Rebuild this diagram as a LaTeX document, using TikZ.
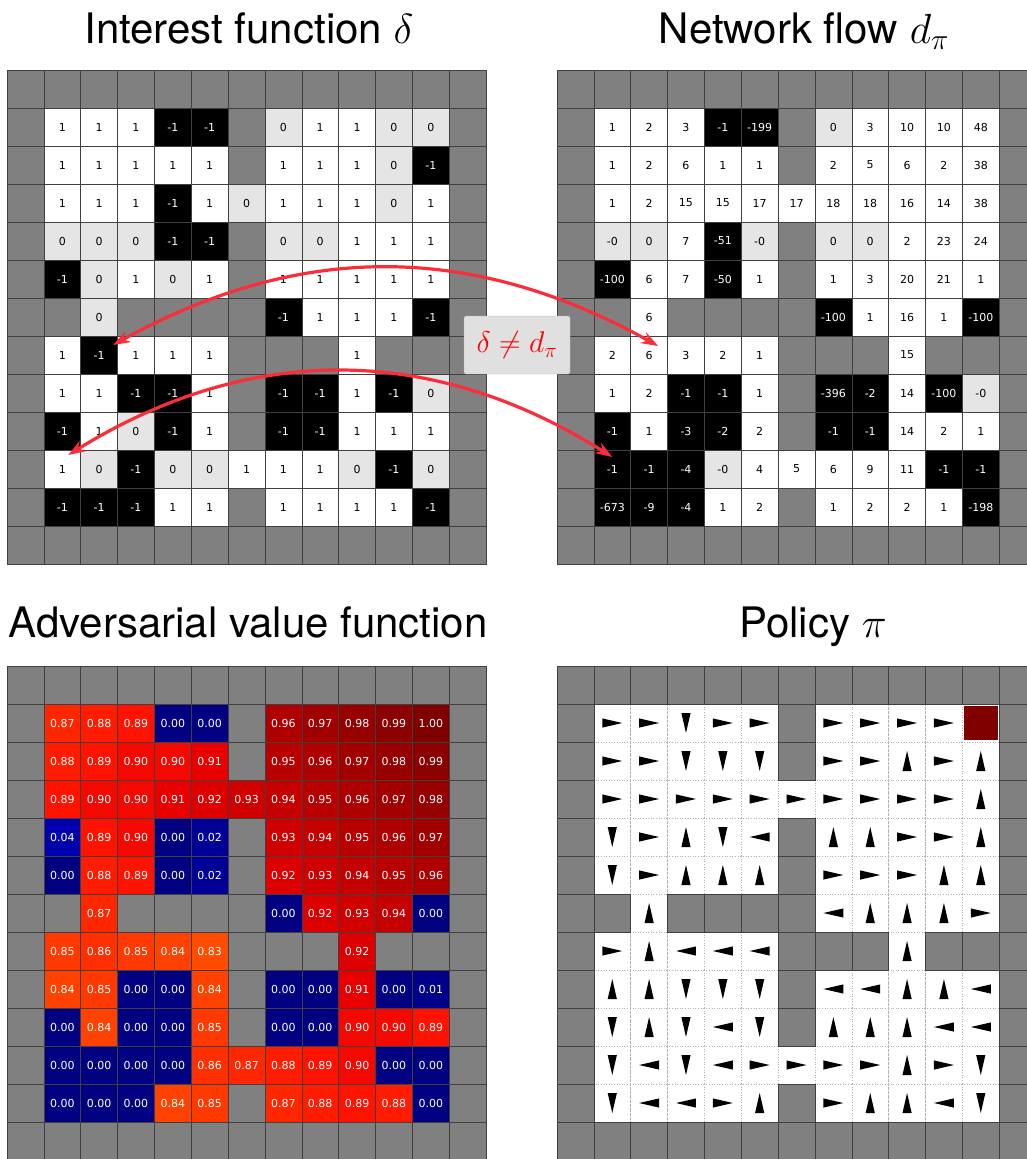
\RequirePackage{fix-cm}
\documentclass[tikz,border=0pt]{standalone}
\usepackage{amsmath}
\usepackage{fontspec}
\newfontfamily\cellfont{DejaVu Sans}
\newfontfamily\titlefont{TeX Gyre Heros}
\usetikzlibrary{arrows.meta}

\definecolor{zerogray}{gray}{0.9}
\definecolor{wallgray}{gray}{0.5}
\definecolor{linkred}{RGB}{250,45,58}
\definecolor{goalred}{RGB}{128,0,0}

% cell size (pt) and data markers
\def\cw{36.85}
\def\ch{38}
\def\wallx{x}
\def\goalG{G}
\def\dirR{0}\def\dirU{90}\def\dirL{180}\def\dirD{270}

\tikzset{
  cell/.style={rectangle, inner sep=0pt, minimum width=\cw pt, minimum height=\ch pt,
    draw=black!75, line width=0.6pt, font=\cellfont\fontsize{11}{13}\selectfont},
  wall/.style={cell, fill=wallgray},
  free/.style={cell, fill=white, draw=black!30, dotted},
  goal/.style={rectangle, inner sep=0pt, minimum width=\cw pt-2.5pt, minimum height=\ch pt-2.5pt,
    fill=goalred, draw=white, line width=0.8pt},
  gridtitle/.style={anchor=base, font=\titlefont\fontsize{42}{48}\selectfont},
  link/.style={{Stealth[length=17pt,width=12pt]}-{Stealth[length=17pt,width=12pt]},
    draw=linkred, line width=3.2pt},
}

% outer ring of walls, #1 name, (#2,#3) top left corner
\newcommand{\wallframe}[3]{%
  \foreach \r in {0,...,12}
    \foreach \c in {0,...,12} {
      \pgfmathtruncatemacro\edge{(\r==0)||(\r==12)||(\c==0)||(\c==12)}
      \ifnum\edge=1
        \node[wall] (#1-\r-\c) at ({#2+(\c+0.5)*\cw},{#3+(\r+0.5)*\ch}) {};
      \fi
    }
}

% grid of signed numbers: black < 0, light gray = 0, white > 0
\newcommand{\numgrid}[4]{%
  \wallframe{#1}{#2}{#3}
  \foreach \row [count=\r] in {#4} {
    \foreach \v [count=\c] in \row {
      \edef\tmp{\v}
      \ifx\tmp\wallx
        \node[wall] (#1-\r-\c) at ({#2+(\c+0.5)*\cw},{#3+(\r+0.5)*\ch}) {};
      \else
        \pgfmathtruncatemacro\kind{\v<0 ? 0 : (\v==0 ? 1 : 2)}
        \ifcase\kind \def\cfill{black}\def\ctext{white}%
        \or \def\cfill{zerogray}\def\ctext{black}%
        \else \def\cfill{white}\def\ctext{black}\fi
        \node[cell, fill=\cfill, text=\ctext] (#1-\r-\c)
          at ({#2+(\c+0.5)*\cw},{#3+(\r+0.5)*\ch}) {\v};
      \fi
    }
  }
}

% grid of values coloured with the jet map
\newcommand{\valgrid}[4]{%
  \wallframe{#1}{#2}{#3}
  \foreach \row [count=\r] in {#4} {
    \foreach \v [count=\c] in \row {
      \edef\tmp{\v}
      \ifx\tmp\wallx
        \node[wall] (#1-\r-\c) at ({#2+(\c+0.5)*\cw},{#3+(\r+0.5)*\ch}) {};
      \else
        \pgfmathsetmacro\jr{\v<0.11 ? 0 : min(1,1-(\v-0.89)/0.22)}
        \pgfmathsetmacro\jg{\v<0.11 ? 0 : max(0,(0.91-\v)/0.27)}
        \pgfmathsetmacro\jb{\v<0.11 ? 0.5+\v/0.22 : 0}
        \definecolor{jet}{rgb}{\jr,\jg,\jb}
        \node[cell, fill=jet, text=white] (#1-\r-\c)
          at ({#2+(\c+0.5)*\cw},{#3+(\r+0.5)*\ch}) {\v};
      \fi
    }
  }
}

% grid of actions R U L D, G = goal
\newcommand{\polgrid}[4]{%
  \foreach \row [count=\r] in {#4} {
    \foreach \v [count=\c] in \row {
      \edef\tmp{\v}
      \ifx\tmp\wallx\else
        \node[free] (#1-\r-\c) at ({#2+(\c+0.5)*\cw},{#3+(\r+0.5)*\ch}) {};
        \ifx\tmp\goalG
          \node[goal] (#1-goal) at (#1-\r-\c) {};
        \else
          \fill[shift={(#1-\r-\c.center)}, rotate=\csname dir\v\endcsname]
            (10pt,0pt) -- (-10pt,4.6pt) -- (-10pt,-4.6pt) -- cycle;
        \fi
      \fi
    }
  }
  % walls last so their edges stay solid
  \foreach \row [count=\r] in {#4} {
    \foreach \v [count=\c] in \row {
      \edef\tmp{\v}
      \ifx\tmp\wallx
        \node[wall] (#1-\r-\c) at ({#2+(\c+0.5)*\cw},{#3+(\r+0.5)*\ch}) {};
      \fi
    }
  }
  \wallframe{#1}{#2}{#3}
}

\begin{document}
\begin{tikzpicture}[x=1pt, y=-1pt]
  \useasboundingbox (0,0) rectangle (1027,1159);

  % titles
  \node[gridtitle] (int-title) at (249,43) {Interest function $\delta$};
  \node[gridtitle] (flow-title) at (804,43) {Network flow $d_\pi$};
  \node[gridtitle] (val-title) at (248,637) {Adversarial value function};
  \node[gridtitle] (pol-title) at (813,637) {Policy $\pi$};

  % interest function
  \numgrid{int}{7}{70}{
    {1,1,1,-1,-1,x,0,1,1,0,0},
    {1,1,1,1,1,x,1,1,1,0,-1},
    {1,1,1,-1,1,0,1,1,1,0,1},
    {0,0,0,-1,-1,x,0,0,1,1,1},
    {-1,0,1,0,1,x,1,1,1,1,1},
    {x,0,x,x,x,x,-1,1,1,1,-1},
    {1,-1,1,1,1,x,x,x,1,x,x},
    {1,1,-1,-1,1,x,-1,-1,1,-1,0},
    {-1,1,0,-1,1,x,-1,-1,1,1,1},
    {1,0,-1,0,0,1,1,1,0,-1,0},
    {-1,-1,-1,1,1,x,1,1,1,1,-1}}

  % network flow
  \numgrid{flow}{557}{70}{
    {1,2,3,-1,-199,x,0,3,10,10,48},
    {1,2,6,1,1,x,2,5,6,2,38},
    {1,2,15,15,17,17,18,18,16,14,38},
    {-0,0,7,-51,-0,x,0,0,2,23,24},
    {-100,6,7,-50,1,x,1,3,20,21,1},
    {x,6,x,x,x,x,-100,1,16,1,-100},
    {2,6,3,2,1,x,x,x,15,x,x},
    {1,2,-1,-1,1,x,-396,-2,14,-100,-0},
    {-1,1,-3,-2,2,x,-1,-1,14,2,1},
    {-1,-1,-4,-0,4,5,6,9,11,-1,-1},
    {-673,-9,-4,1,2,x,1,2,2,1,-198}}

  % adversarial value function
  \valgrid{val}{7}{666}{
    {0.87,0.88,0.89,0.00,0.00,x,0.96,0.97,0.98,0.99,1.00},
    {0.88,0.89,0.90,0.90,0.91,x,0.95,0.96,0.97,0.98,0.99},
    {0.89,0.90,0.90,0.91,0.92,0.93,0.94,0.95,0.96,0.97,0.98},
    {0.04,0.89,0.90,0.00,0.02,x,0.93,0.94,0.95,0.96,0.97},
    {0.00,0.88,0.89,0.00,0.02,x,0.92,0.93,0.94,0.95,0.96},
    {x,0.87,x,x,x,x,0.00,0.92,0.93,0.94,0.00},
    {0.85,0.86,0.85,0.84,0.83,x,x,x,0.92,x,x},
    {0.84,0.85,0.00,0.00,0.84,x,0.00,0.00,0.91,0.00,0.01},
    {0.00,0.84,0.00,0.00,0.85,x,0.00,0.00,0.90,0.90,0.89},
    {0.00,0.00,0.00,0.00,0.86,0.87,0.88,0.89,0.90,0.00,0.00},
    {0.00,0.00,0.00,0.84,0.85,x,0.87,0.88,0.89,0.88,0.00}}

  % policy
  \polgrid{pol}{557}{666}{
    {R,R,D,R,R,x,R,R,R,R,G},
    {R,R,D,D,D,x,R,R,U,R,U},
    {R,R,R,R,R,R,R,R,R,R,U},
    {D,R,U,D,L,x,U,U,R,R,U},
    {D,R,U,U,U,x,R,R,R,U,U},
    {x,U,x,x,x,x,L,U,U,U,R},
    {R,U,L,L,L,x,x,x,U,x,x},
    {U,U,D,D,D,x,L,L,U,U,L},
    {D,U,D,L,D,x,U,U,U,L,L},
    {D,L,D,L,R,R,R,R,U,R,D},
    {D,L,L,R,U,x,R,U,U,L,D}}

  % links between the two top grids
  \coordinate (a1) at ([xshift=14pt,yshift=10pt]int-7-2.center);
  \coordinate (b1) at ([xshift=9pt,yshift=9pt]flow-7-2.center);
  \coordinate (a2) at ([xshift=6pt,yshift=14pt]int-10-1.center);
  \coordinate (b2) at ([yshift=12pt]flow-10-1.center);
  \draw[link] (a1) to[bend left=29] (b1);
  \draw[link] (a2) to[bend left=32] (b2);

  \node[draw=black!30, fill=black!12, minimum width=106pt, minimum height=58pt,
    rounded corners=1.5pt, inner sep=0pt, text=red, font=\fontsize{30}{36}\selectfont]
    (neq) at (517,345) {$\delta \neq d_\pi$};
\end{tikzpicture}
\end{document}
